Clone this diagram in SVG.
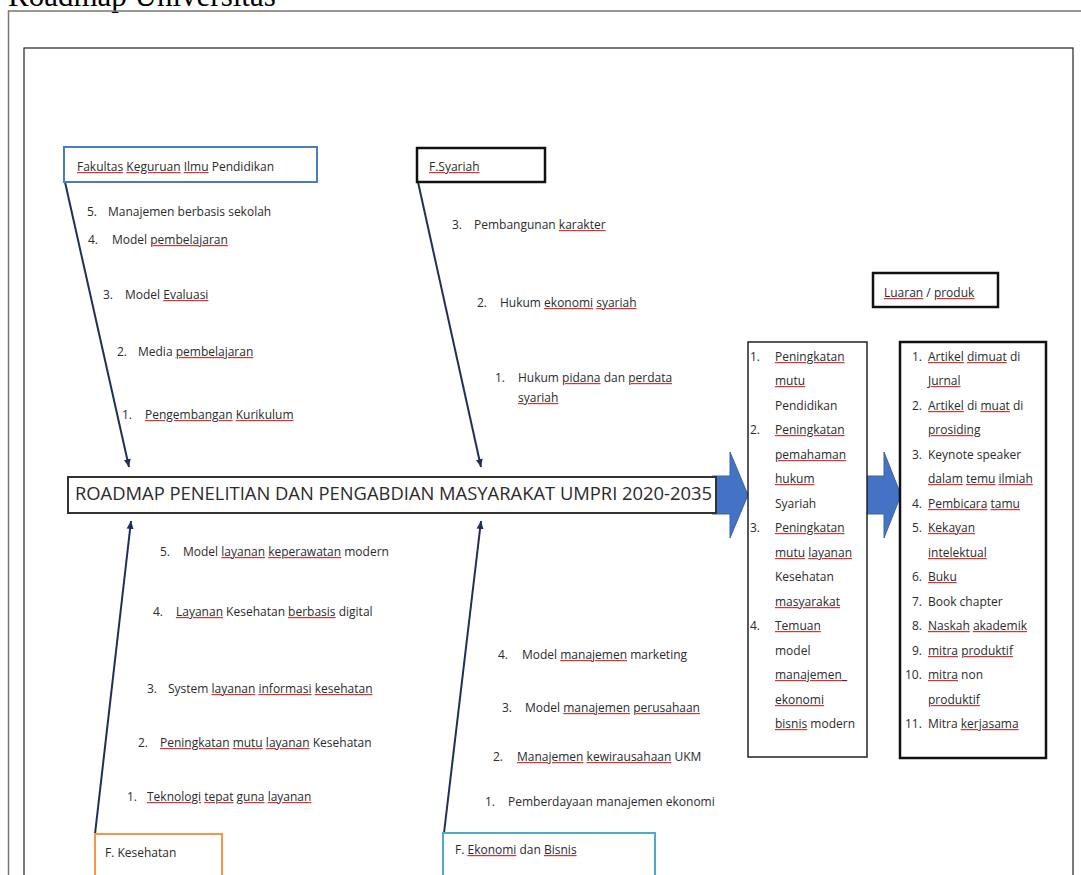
<svg xmlns="http://www.w3.org/2000/svg" width="1081" height="875" viewBox="0 0 1081 875">
<defs>
<style>
.t{font-family:"Open Sans","Noto Sans","Liberation Sans",sans-serif;font-size:12px;fill:#2b2b2b}
.sp{text-decoration:underline;text-decoration-style:wavy;text-decoration-color:#e03030;fill:#e03030}
.sp tspan{fill:#2b2b2b}
.ttl{font-family:"Liberation Serif","Times New Roman",serif;font-size:31px;fill:#000}
.ban{font-family:"Open Sans","Noto Sans","Liberation Sans",sans-serif;font-size:18px;fill:#2b2b2b}
.con{stroke:#1f3058;stroke-width:2;fill:none;marker-end:url(#ah)}
.barrow{fill:#4472c4;stroke:#3a62a8;stroke-width:1}
</style>
<marker id="ah" markerUnits="userSpaceOnUse" markerWidth="10" markerHeight="10" refX="8" refY="4" orient="auto">
<path d="M0,0.5 L8,4 L0,7.5 z" fill="#1f3058"/>
</marker>
</defs>
<rect width="1081" height="875" fill="#fff"/>
<text class="ttl" x="8" y="6">Roadmap Universitas</text>
<path d="M8.5,900 V11 H1090" fill="none" stroke="#777" stroke-width="1.5"/>
<rect x="24" y="48" width="1049" height="860" fill="none" stroke="#222" stroke-width="1.2"/>

<g id="connectors">
<line class="con" x1="65" y1="182" x2="129" y2="467"/>
<line class="con" x1="418" y1="182" x2="481" y2="467"/>
<line class="con" x1="95" y1="834" x2="131" y2="521"/>
<line class="con" x1="444" y1="833" x2="481" y2="521"/>
<polygon class="barrow" points="712,476 730,476 730,452 748,495 730,538 730,514 712,514"/>
<polygon class="barrow" points="867,476 884,476 884,452 901,495 884,538 884,514 867,514"/>
</g>

<g id="fkip">
<rect x="64" y="147" width="253" height="35" fill="#fff" stroke="#4a7ebb" stroke-width="2"/>
<text class="t" x="77" y="171"><tspan class="sp"><tspan>Fakultas</tspan></tspan> <tspan class="sp"><tspan>Keguruan</tspan></tspan> <tspan class="sp"><tspan>Ilmu</tspan></tspan> Pendidikan</text>
<text class="t" x="87" y="216">5.</text><text class="t" x="108" y="216">Manajemen berbasis sekolah</text>
<text class="t" x="88" y="244">4.</text><text class="t" x="112" y="244">Model <tspan class="sp"><tspan>pembelajaran</tspan></tspan></text>
<text class="t" x="103" y="299">3.</text><text class="t" x="125" y="299">Model <tspan class="sp"><tspan>Evaluasi</tspan></tspan></text>
<text class="t" x="117" y="356">2.</text><text class="t" x="138" y="356">Media <tspan class="sp"><tspan>pembelajaran</tspan></tspan></text>
<text class="t" x="122" y="419">1.</text><text class="t" x="145" y="419"><tspan class="sp"><tspan>Pengembangan</tspan></tspan> <tspan class="sp"><tspan>Kurikulum</tspan></tspan></text>
</g>

<g id="syariah">
<rect x="417" y="148" width="128" height="34" fill="#fff" stroke="#111" stroke-width="2.5"/>
<text class="t" x="429" y="171"><tspan class="sp"><tspan>F.Syariah</tspan></tspan></text>
<text class="t" x="452" y="229">3.</text><text class="t" x="474" y="229">Pembangunan <tspan class="sp"><tspan>karakter</tspan></tspan></text>
<text class="t" x="477" y="307">2.</text><text class="t" x="500" y="307">Hukum <tspan class="sp"><tspan>ekonomi</tspan></tspan> <tspan class="sp"><tspan>syariah</tspan></tspan></text>
<text class="t" x="495" y="382">1.</text><text class="t" x="518" y="382">Hukum <tspan class="sp"><tspan>pidana</tspan></tspan> dan <tspan class="sp"><tspan>perdata</tspan></tspan></text>
<text class="t" x="518" y="402"><tspan class="sp"><tspan>syariah</tspan></tspan></text>
</g>

<g id="banner">
<rect x="68" y="477" width="648" height="36" fill="#fff" stroke="#333" stroke-width="2"/>
<text class="ban" x="75" y="500" textLength="637" lengthAdjust="spacingAndGlyphs">ROADMAP PENELITIAN DAN PENGABDIAN MASYARAKAT UMPRI 2020-2035</text>
</g>

<g id="kesehatan">
<rect x="95" y="834" width="127" height="50" fill="#fff" stroke="#f79646" stroke-width="2"/>
<text class="t" x="105" y="857">F. Kesehatan</text>
<text class="t" x="160" y="556">5.</text><text class="t" x="183" y="556">Model <tspan class="sp"><tspan>layanan</tspan></tspan> <tspan class="sp"><tspan>keperawatan</tspan></tspan> modern</text>
<text class="t" x="153" y="616">4.</text><text class="t" x="176" y="616"><tspan class="sp"><tspan>Layanan</tspan></tspan> Kesehatan <tspan class="sp"><tspan>berbasis</tspan></tspan> digital</text>
<text class="t" x="147" y="693">3.</text><text class="t" x="168" y="693">System <tspan class="sp"><tspan>layanan</tspan></tspan> <tspan class="sp"><tspan>informasi</tspan></tspan> <tspan class="sp"><tspan>kesehatan</tspan></tspan></text>
<text class="t" x="138" y="747">2.</text><text class="t" x="160" y="747"><tspan class="sp"><tspan>Peningkatan</tspan></tspan> <tspan class="sp"><tspan>mutu</tspan></tspan> <tspan class="sp"><tspan>layanan</tspan></tspan> Kesehatan</text>
<text class="t" x="127" y="801">1.</text><text class="t" x="147" y="801"><tspan class="sp"><tspan>Teknologi</tspan></tspan> <tspan class="sp"><tspan>tepat</tspan></tspan> <tspan class="sp"><tspan>guna</tspan></tspan> <tspan class="sp"><tspan>layanan</tspan></tspan></text>
</g>

<g id="ekonomi">
<rect x="443" y="833" width="212" height="50" fill="#fff" stroke="#4bacc6" stroke-width="2"/>
<text class="t" x="455" y="854">F. <tspan class="sp"><tspan>Ekonomi</tspan></tspan> dan <tspan class="sp"><tspan>Bisnis</tspan></tspan></text>
<text class="t" x="498" y="659">4.</text><text class="t" x="522" y="659">Model <tspan class="sp"><tspan>manajemen</tspan></tspan> marketing</text>
<text class="t" x="502" y="712">3.</text><text class="t" x="525" y="712">Model <tspan class="sp"><tspan>manajemen</tspan></tspan> <tspan class="sp"><tspan>perusahaan</tspan></tspan></text>
<text class="t" x="493" y="761">2.</text><text class="t" x="517" y="761"><tspan class="sp"><tspan>Manajemen</tspan></tspan> <tspan class="sp"><tspan>kewirausahaan</tspan></tspan> UKM</text>
<text class="t" x="485" y="806">1.</text><text class="t" x="508" y="806">Pemberdayaan manajemen ekonomi</text>
</g>

<g id="dampak">
<rect x="748" y="342" width="119" height="415" fill="#fff" stroke="#222" stroke-width="1.5"/>
<text class="t" x="750" y="361">1.</text><text class="t" x="775" y="361"><tspan class="sp"><tspan>Peningkatan</tspan></tspan></text>
<text class="t" x="775" y="385"><tspan class="sp"><tspan>mutu</tspan></tspan></text>
<text class="t" x="775" y="410">Pendidikan</text>
<text class="t" x="750" y="434">2.</text><text class="t" x="775" y="434"><tspan class="sp"><tspan>Peningkatan</tspan></tspan></text>
<text class="t" x="775" y="459"><tspan class="sp"><tspan>pemahaman</tspan></tspan></text>
<text class="t" x="775" y="483"><tspan class="sp"><tspan>hukum</tspan></tspan></text>
<text class="t" x="775" y="508">Syariah</text>
<text class="t" x="750" y="532">3.</text><text class="t" x="775" y="532"><tspan class="sp"><tspan>Peningkatan</tspan></tspan></text>
<text class="t" x="775" y="557"><tspan class="sp"><tspan>mutu</tspan></tspan> <tspan class="sp"><tspan>layanan</tspan></tspan></text>
<text class="t" x="775" y="581">Kesehatan</text>
<text class="t" x="775" y="606"><tspan class="sp"><tspan>masyarakat</tspan></tspan></text>
<text class="t" x="750" y="630">4.</text><text class="t" x="775" y="630"><tspan class="sp"><tspan>Temuan</tspan></tspan></text>
<text class="t" x="775" y="655">model</text>
<text class="t" x="775" y="679"><tspan class="sp"><tspan>manajemen_</tspan></tspan></text>
<text class="t" x="775" y="704"><tspan class="sp"><tspan>ekonomi</tspan></tspan></text>
<text class="t" x="775" y="728"><tspan class="sp"><tspan>bisnis</tspan></tspan> modern</text>
</g>

<g id="luaran-label">
<rect x="873" y="273" width="125" height="34" fill="#fff" stroke="#111" stroke-width="2.5"/>
<text class="t" x="884" y="297"><tspan class="sp"><tspan>Luaran</tspan></tspan> / <tspan class="sp"><tspan>produk</tspan></tspan></text>
</g>

<g id="luaran">
<rect x="900" y="342" width="146" height="416" fill="#fff" stroke="#111" stroke-width="2.5"/>
<text class="t" x="912" y="361">1.</text><text class="t" x="928" y="361"><tspan class="sp"><tspan>Artikel</tspan></tspan> <tspan class="sp"><tspan>dimuat</tspan></tspan> di</text>
<text class="t" x="928" y="385"><tspan class="sp"><tspan>Jurnal</tspan></tspan></text>
<text class="t" x="912" y="410">2.</text><text class="t" x="928" y="410"><tspan class="sp"><tspan>Artikel</tspan></tspan> di <tspan class="sp"><tspan>muat</tspan></tspan> di</text>
<text class="t" x="928" y="434"><tspan class="sp"><tspan>prosiding</tspan></tspan></text>
<text class="t" x="912" y="459">3.</text><text class="t" x="928" y="459">Keynote speaker</text>
<text class="t" x="928" y="483"><tspan class="sp"><tspan>dalam</tspan></tspan> <tspan class="sp"><tspan>temu</tspan></tspan> <tspan class="sp"><tspan>ilmiah</tspan></tspan></text>
<text class="t" x="912" y="508">4.</text><text class="t" x="928" y="508"><tspan class="sp"><tspan>Pembicara</tspan></tspan> <tspan class="sp"><tspan>tamu</tspan></tspan></text>
<text class="t" x="912" y="532">5.</text><text class="t" x="928" y="532"><tspan class="sp"><tspan>Kekayan</tspan></tspan></text>
<text class="t" x="928" y="557"><tspan class="sp"><tspan>intelektual</tspan></tspan></text>
<text class="t" x="912" y="581">6.</text><text class="t" x="928" y="581"><tspan class="sp"><tspan>Buku</tspan></tspan></text>
<text class="t" x="912" y="606">7.</text><text class="t" x="928" y="606">Book chapter</text>
<text class="t" x="912" y="630">8.</text><text class="t" x="928" y="630"><tspan class="sp"><tspan>Naskah</tspan></tspan> <tspan class="sp"><tspan>akademik</tspan></tspan></text>
<text class="t" x="912" y="655">9.</text><text class="t" x="928" y="655"><tspan class="sp"><tspan>mitra</tspan></tspan> <tspan class="sp"><tspan>produktif</tspan></tspan></text>
<text class="t" x="905" y="679">10.</text><text class="t" x="928" y="679"><tspan class="sp"><tspan>mitra</tspan></tspan> non</text>
<text class="t" x="928" y="704"><tspan class="sp"><tspan>produktif</tspan></tspan></text>
<text class="t" x="905" y="728">11.</text><text class="t" x="928" y="728">Mitra <tspan class="sp"><tspan>kerjasama</tspan></tspan></text>
</g>
</svg>
